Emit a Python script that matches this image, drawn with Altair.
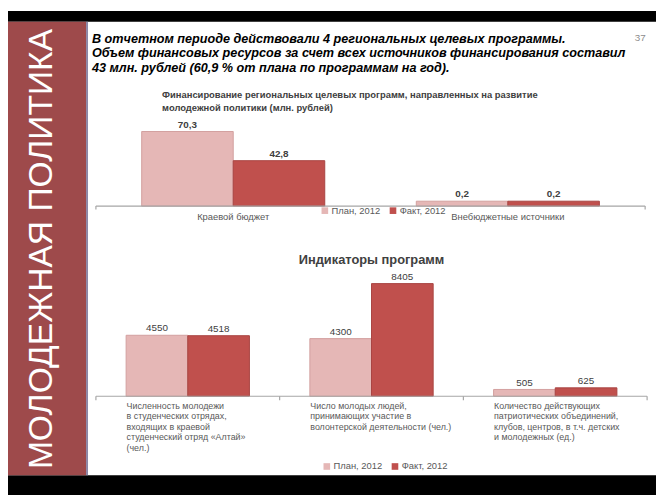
import altair as alt
import pandas as pd

# ---------------- data ----------------
series = ["План, 2012", "Факт, 2012"]

fin_categories = ["Краевой бюджет", "Внебюджетные источники"]
fin_plan = [70.3, 0.2]
fin_fact = [42.8, 0.2]

ind_keys = ["students", "volunteers", "clubs"]
ind_labels = [
    "Численность молодежи\nв студенческих отрядах,\nвходящих в краевой\nстуденческий отряд «Алтай»\n(чел.)",
    "Число молодых людей,\nпринимающих участие в\nволонтерской деятельности (чел.)",
    "Количество действующих\nпатриотических объединений,\nклубов, центров, в т.ч. детских\nи молодежных (ед.)",
]
ind_plan = [4550, 4300, 505]
ind_fact = [4518, 8405, 625]

header_lines = [
    "В отчетном периоде действовали 4 региональных целевых программы.",
    "Объем финансовых ресурсов за счет всех источников финансирования составил",
    "43 млн. рублей (60,9 % от плана по программам на год).",
]
fin_title = ["Финансирование региональных целевых программ, направленных на развитие",
             "молодежной политики (млн. рублей)"]
ind_title = "Индикаторы программ"
side_title = "МОЛОДЕЖНАЯ ПОЛИТИКА"
page_no = "37"

# ---------------- styles ----------------
W, H = 656, 490
PLAN_C, FACT_C = "#e5b7b6", "#c0504d"
PLAN_S, FACT_S = "#d29f9e", "#a94442"
BAND_C = "#9e4a4b"
AXIS_C = "#a6a6a6"
FONT = "Liberation Sans"

fin_df = pd.DataFrame({
    "cat": fin_categories * 2,
    "series": [series[0]] * 2 + [series[1]] * 2,
    "value": fin_plan + fin_fact,
})
ind_df = pd.DataFrame({
    "cat": ind_keys * 2,
    "series": [series[0]] * 3 + [series[1]] * 3,
    "value": ind_plan + ind_fact,
})
ind_lab_df = pd.DataFrame({"cat": ind_keys, "label": ind_labels})
fin_lab_df = pd.DataFrame({"cat": fin_categories})

one = alt.Data(values=[{"k": 1}])


def color_enc(lx, ly):
    return alt.Color(
        "series:N",
        sort=series,
        scale=alt.Scale(domain=series, range=[PLAN_C, FACT_C]),
        legend=alt.Legend(
            orient="none", legendX=lx, legendY=ly, direction="horizontal",
            title=None, symbolType="square", symbolSize=45, symbolStrokeWidth=0,
            labelFontSize=9.5, labelColor="#595959", labelFont=FONT, labelOffset=2,
            columnPadding=8, padding=0, symbolOffset=0,
        ),
    )


stroke_enc = alt.Stroke("series:N", sort=series,
                        scale=alt.Scale(domain=series, range=[PLAN_S, FACT_S]),
                        legend=None)

# ---------------- chart 1 : financing ----------------
sc_x1 = alt.Scale(domain=fin_categories, range=[89, 645], paddingInner=0, paddingOuter=0)
x1 = alt.X("cat:N", sort=fin_categories, scale=sc_x1, axis=None)
xo1 = alt.XOffset("series:N", sort=series,
                  scale=alt.Scale(domain=series, paddingInner=0, paddingOuter=0.5))
y1 = alt.Y("shown:Q", scale=alt.Scale(range=[197.5, 122], nice=False, zero=True), axis=None)

base1 = alt.Chart(fin_df).transform_calculate(
    shown="max(datum.value, 4.6)",
    label="replace(format(datum.value, '.1f'), '.', ',')",
)
bars1 = base1.mark_bar(strokeWidth=1).encode(
    x=x1, xOffset=xo1, y=y1, color=color_enc(316, 197), stroke=stroke_enc)
vals1 = base1.mark_text(dy=-7, fontSize=10, font=FONT, fontWeight="bold", color="#404040").encode(
    x=x1, xOffset=xo1, y=y1, text="label:N")
rule1 = alt.Chart(one).mark_rule(color=AXIS_C, strokeWidth=1.2).encode(
    x=alt.value(89), x2=alt.value(645), y=alt.datum(0))
ticks1a = alt.Chart(fin_lab_df.iloc[:1]).mark_rule(color=AXIS_C, strokeWidth=1.2).encode(
    x=alt.X("cat:N", sort=fin_categories, scale=sc_x1, axis=None, bandPosition=0),
    y=alt.datum(0), y2=alt.value(201))
ticks1b = alt.Chart(fin_lab_df.iloc[1:]).mark_rule(color=AXIS_C, strokeWidth=1.2).encode(
    x=alt.X("cat:N", sort=fin_categories, scale=sc_x1, axis=None, bandPosition=1),
    y=alt.datum(0), y2=alt.value(201))
cats1 = alt.Chart(fin_lab_df).mark_text(dy=11, fontSize=9.5, font=FONT, color="#595959").encode(
    x=x1, y=alt.datum(0), text="cat:N")
chart1 = alt.layer(bars1, vals1, rule1, ticks1a, ticks1b, cats1)

# ---------------- chart 2 : indicators ----------------
sc_x2 = alt.Scale(domain=ind_keys, range=[89, 647], paddingInner=0, paddingOuter=0)
x2 = alt.X("cat:N", sort=ind_keys, scale=sc_x2, axis=None)
xo2 = alt.XOffset("series:N", sort=series,
                  scale=alt.Scale(domain=series, paddingInner=0, paddingOuter=0.49))
y2 = alt.Y("value:Q", scale=alt.Scale(range=[390, 276], nice=False, zero=True), axis=None)

base2 = alt.Chart(ind_df)
bars2 = base2.mark_bar(strokeWidth=1).encode(
    x=x2, xOffset=xo2, y=y2, color=color_enc(318, 456), stroke=stroke_enc)
vals2 = base2.mark_text(dy=-7, fontSize=10, font=FONT, color="#404040").encode(
    x=x2, xOffset=xo2, y=y2, text="value:Q")
rule2 = alt.Chart(one).mark_rule(color=AXIS_C, strokeWidth=1.2).encode(
    x=alt.value(89), x2=alt.value(647), y=alt.datum(0))
ticks2a = alt.Chart(ind_lab_df).mark_rule(color=AXIS_C, strokeWidth=1.2).encode(
    x=alt.X("cat:N", sort=ind_keys, scale=sc_x2, axis=None, bandPosition=0),
    y=alt.datum(0), y2=alt.value(394))
ticks2b = alt.Chart(ind_lab_df.iloc[2:]).mark_rule(color=AXIS_C, strokeWidth=1.2).encode(
    x=alt.X("cat:N", sort=ind_keys, scale=sc_x2, axis=None, bandPosition=1),
    y=alt.datum(0), y2=alt.value(394))
cats2 = alt.Chart(ind_lab_df).mark_text(
    dx=-62, dy=6, align="left", baseline="top", lineBreak="\n", lineHeight=10.5,
    fontSize=9, font=FONT, color="#595959").encode(
    x=x2, y=alt.datum(0), text="label:N")
chart2 = alt.layer(bars2, vals2, rule2, ticks2a, ticks2b, cats2)

# ---------------- decoration ----------------
top_black = alt.Chart(one).mark_rect(color="black").encode(
    x=alt.value(0), x2=alt.value(W), y=alt.value(0), y2=alt.value(11))
bot_black = alt.Chart(one).mark_rect(color="black").encode(
    x=alt.value(0), x2=alt.value(W), y=alt.value(470), y2=alt.value(H))
band = alt.Chart(one).mark_rect(color=BAND_C).encode(
    x=alt.value(0), x2=alt.value(79), y=alt.value(11), y2=alt.value(470))
band_edge = alt.Chart(one).mark_rect(color="#8d87a6").encode(
    x=alt.value(79), x2=alt.value(81), y=alt.value(11), y2=alt.value(470))
side = alt.Chart(one).mark_text(
    angle=270, fontSize=34, font=FONT, color="white",
    align="center", baseline="middle").encode(
    x=alt.value(35), y=alt.value(241), text=alt.value(side_title))
header = alt.Chart(one).mark_text(
    align="left", baseline="middle", lineBreak="\n", lineHeight=15,
    fontSize=12.8, font=FONT, fontStyle="italic", fontWeight="bold", color="black").encode(
    x=alt.value(85), y=alt.value(28), text=alt.value("\n".join(header_lines)))
pnum = alt.Chart(one).mark_text(fontSize=10, font=FONT, color="#8c8c8c").encode(
    x=alt.value(640), y=alt.value(27), text=alt.value(page_no))
t1 = alt.Chart(one).mark_text(
    align="left", baseline="middle", lineBreak="\n", lineHeight=13,
    fontSize=9.5, font=FONT, fontWeight="bold", color="#404040").encode(
    x=alt.value(156), y=alt.value(85), text=alt.value("\n".join(fin_title)))
t2 = alt.Chart(one).mark_text(
    align="center", baseline="middle", fontSize=13, font=FONT, fontWeight="bold",
    color="#404040").encode(x=alt.value(368), y=alt.value(252), text=alt.value(ind_title))

chart = alt.layer(
    top_black, bot_black, band, band_edge, side, header, pnum, t1, t2, chart1, chart2
).resolve_scale(
    x="independent", y="independent", xOffset="independent",
    color="independent", stroke="independent"
).resolve_legend(color="independent").properties(
    width=W, height=H, padding=0, autosize="none", background="white"
).configure_view(stroke=None)

chart.save("out.html", embed_options={"renderer": "svg", "actions": False})
